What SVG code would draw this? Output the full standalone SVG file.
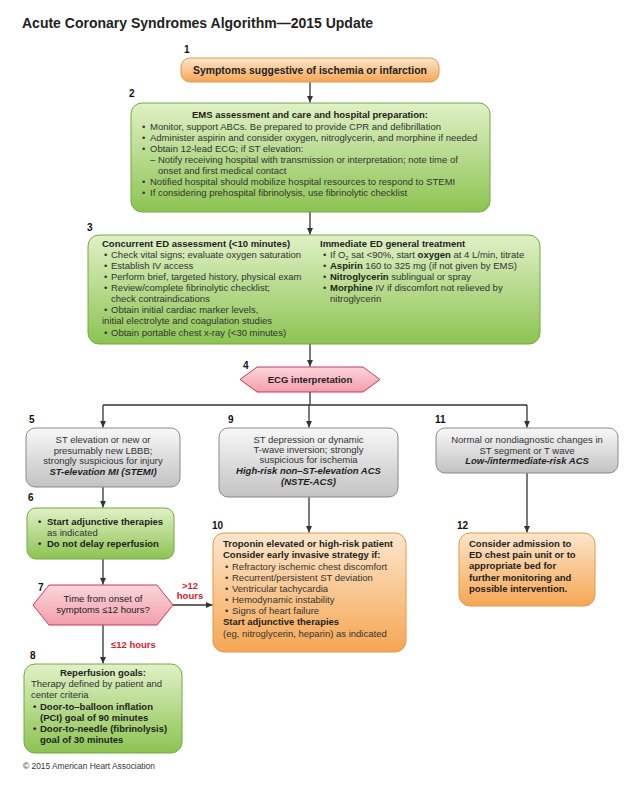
<svg xmlns="http://www.w3.org/2000/svg" width="638" height="798" viewBox="0 0 638 798">
<defs>
<linearGradient id="gOr" x1="0" y1="0" x2="0" y2="1"><stop offset="0" stop-color="#fde6cc"/><stop offset="1" stop-color="#f5a653"/></linearGradient>
<linearGradient id="gGr" x1="0" y1="0" x2="0" y2="1"><stop offset="0" stop-color="#e0f1c6"/><stop offset="1" stop-color="#8cc352"/></linearGradient>
<linearGradient id="gGy" x1="0" y1="0" x2="0" y2="1"><stop offset="0" stop-color="#f8f8f8"/><stop offset="1" stop-color="#c2c2c2"/></linearGradient>
<linearGradient id="gPk" x1="0" y1="0" x2="0" y2="1"><stop offset="0" stop-color="#fcd6db"/><stop offset="1" stop-color="#f29eaa"/></linearGradient>
<marker id="arr" markerUnits="userSpaceOnUse" markerWidth="8" markerHeight="8" refX="7" refY="4" orient="auto"><path d="M0,0.8 L7,4 L0,7.2 Z" fill="#333"/></marker>
</defs>
<style>
text{font-family:"Liberation Sans",Arial,Helvetica,sans-serif;font-size:9.5px;fill:#333}
.b{font-weight:bold;fill:#1e1e1e}
.bi{font-weight:bold;font-style:italic;fill:#1e1e1e}
.c{text-anchor:middle}
.num{font-weight:bold;font-size:10px;fill:#111}
.red{font-weight:bold;fill:#d2232a}
.or{fill:url(#gOr);stroke:#e0994c;stroke-width:1}
.gr{fill:url(#gGr);stroke:#74a843;stroke-width:1}
.gy{fill:url(#gGy);stroke:#8a8a8a;stroke-width:1}
.pk{fill:url(#gPk);stroke:#c8385a;stroke-width:1}
.ln{fill:none;stroke:#333;stroke-width:1.3}
</style>
<rect width="638" height="798" fill="#fff"/>
<text x="22" y="28" style="font-size:14px;font-weight:bold;fill:#222">Acute Coronary Syndromes Algorithm—2015 Update</text>

<g id="connectors">
<line class="ln" x1="310" y1="82" x2="310" y2="102.5" marker-end="url(#arr)"/>
<line class="ln" x1="310" y1="212" x2="310" y2="234.5" marker-end="url(#arr)"/>
<line class="ln" x1="310" y1="235" x2="310" y2="366.5" marker-end="url(#arr)"/>
<polyline class="ln" points="310,392 310,405"/>
<line class="ln" x1="103" y1="405" x2="527" y2="405"/>
<line class="ln" x1="103" y1="405" x2="103" y2="427.5" marker-end="url(#arr)"/>
<line class="ln" x1="309" y1="405" x2="309" y2="427.5" marker-end="url(#arr)"/>
<line class="ln" x1="527" y1="405" x2="527" y2="427.5" marker-end="url(#arr)"/>
<line class="ln" x1="103" y1="487" x2="103" y2="507.5" marker-end="url(#arr)"/>
<line class="ln" x1="103" y1="559" x2="103" y2="584.5" marker-end="url(#arr)"/>
<line class="ln" x1="173" y1="605" x2="212.5" y2="605" marker-end="url(#arr)"/>
<line class="ln" x1="103" y1="625" x2="103" y2="663.5" marker-end="url(#arr)"/>
<line class="ln" x1="309" y1="497" x2="309" y2="532.5" marker-end="url(#arr)"/>
<line class="ln" x1="527" y1="473" x2="527" y2="532.5" marker-end="url(#arr)"/>
<text class="red c" x="190" y="589">&gt;12</text>
<text class="red c" x="190" y="599">hours</text>
<text class="red" x="111" y="648">≤12 hours</text>
</g>

<g id="node1">
<text class="num" x="184" y="53">1</text>
<rect class="or" x="181" y="58" width="258" height="24" rx="9"/>
<text class="b c" x="310" y="74" style="font-size:10.4px">Symptoms suggestive of ischemia or infarction</text>
</g>

<g id="node2">
<text class="num" x="129" y="97">2</text>
<rect class="gr" x="131" y="103" width="359" height="109" rx="11"/>
<text class="b c" x="310" y="118">EMS assessment and care and hospital preparation:</text>
<text x="142" y="130">•</text><text x="150" y="130">Monitor, support ABCs. Be prepared to provide CPR and defibrillation</text>
<text x="142" y="141">•</text><text x="150" y="141">Administer aspirin and consider oxygen, nitroglycerin, and morphine if needed</text>
<text x="142" y="152">•</text><text x="150" y="152">Obtain 12-lead ECG; if ST elevation:</text>
<text x="150" y="163">– Notify receiving hospital with transmission or interpretation; note time of</text>
<text x="158" y="174">onset and first medical contact</text>
<text x="142" y="185">•</text><text x="150" y="185">Notified hospital should mobilize hospital resources to respond to STEMI</text>
<text x="142" y="196">•</text><text x="150" y="196">If considering prehospital fibrinolysis, use fibrinolytic checklist</text>
</g>

<g id="node3">
<text class="num" x="87" y="231">3</text>
<rect class="gr" x="88" y="235" width="452" height="109" rx="11"/>
<text class="b" x="102" y="247">Concurrent ED assessment (&lt;10 minutes)</text>
<text x="104" y="258">•</text><text x="111" y="258">Check vital signs; evaluate oxygen saturation</text>
<text x="104" y="269">•</text><text x="111" y="269">Establish IV access</text>
<text x="104" y="280">•</text><text x="111" y="280">Perform brief, targeted history, physical exam</text>
<text x="104" y="291">•</text><text x="111" y="291">Review/complete fibrinolytic checklist;</text>
<text x="111" y="302">check contraindications</text>
<text x="104" y="313">•</text><text x="111" y="313">Obtain initial cardiac marker levels,</text>
<text x="102" y="324">initial electrolyte and coagulation studies</text>
<text x="104" y="336">•</text><text x="111" y="336">Obtain portable chest x-ray (&lt;30 minutes)</text>
<text class="b" x="320" y="247">Immediate ED general treatment</text>
<text x="323" y="258">•</text><text x="330" y="258">If O<tspan style="font-size:6px" dy="2">2</tspan><tspan dy="-2"> sat &lt;90%, start </tspan><tspan class="b">oxygen</tspan> at 4 L/min, titrate</text>
<text x="323" y="269">•</text><text x="330" y="269"><tspan class="b">Aspirin</tspan> 160 to 325 mg (if not given by EMS)</text>
<text x="323" y="280">•</text><text x="330" y="280"><tspan class="b">Nitroglycerin</tspan> sublingual or spray</text>
<text x="323" y="291">•</text><text x="330" y="291"><tspan class="b">Morphine</tspan> IV if discomfort not relieved by</text>
<text x="330" y="302">nitroglycerin</text>
</g>

<g id="node4">
<text class="num" x="243" y="369">4</text>
<polygon class="pk" points="240,379.5 257,367 363,367 380,379.5 363,392 257,392"/>
<text class="b c" x="310" y="383">ECG interpretation</text>
</g>

<g id="node5">
<text class="num" x="29" y="423">5</text>
<rect class="gy" x="26" y="428" width="154" height="59" rx="9"/>
<text class="c" x="103" y="443">ST elevation or new or</text>
<text class="c" x="103" y="453.5">presumably new LBBB;</text>
<text class="c" x="103" y="464">strongly suspicious for injury</text>
<text class="bi c" x="103" y="475">ST-elevation MI (STEMI)</text>
</g>

<g id="node9">
<text class="num" x="228" y="423">9</text>
<rect class="gy" x="219" y="428" width="179" height="69" rx="9"/>
<text class="c" x="308.5" y="443">ST depression or dynamic</text>
<text class="c" x="308.5" y="453">T-wave inversion; strongly</text>
<text class="c" x="308.5" y="463">suspicious for ischemia</text>
<text class="bi c" x="308.5" y="474">High-risk non–ST-elevation ACS</text>
<text class="bi c" x="308.5" y="484.5">(NSTE-ACS)</text>
</g>

<g id="node11">
<text class="num" x="435" y="423">11</text>
<rect class="gy" x="436" y="428" width="182" height="45" rx="9"/>
<text class="c" x="527" y="443">Normal or nondiagnostic changes in</text>
<text class="c" x="527" y="453.5">ST segment or T wave</text>
<text class="bi c" x="527" y="464">Low-/intermediate-risk ACS</text>
</g>

<g id="node6">
<text class="num" x="28" y="501">6</text>
<rect class="gr" x="27" y="508" width="147" height="51" rx="9"/>
<text class="b" x="38" y="525">•</text><text class="b" x="47" y="525">Start adjunctive therapies</text>
<text x="47" y="535.5">as indicated</text>
<text class="b" x="38" y="547">•</text><text class="b" x="47" y="547">Do not delay reperfusion</text>
</g>

<g id="node7">
<text class="num" x="38" y="591">7</text>
<polygon class="pk" points="33,605 49,585 157,585 173,605 157,625 49,625"/>
<text class="c" x="103" y="602" style="fill:#222">Time from onset of</text>
<text class="c" x="103" y="613" style="fill:#222">symptoms ≤12 hours?</text>
</g>

<g id="node8">
<text class="num" x="30" y="659">8</text>
<rect class="gr" x="24" y="664" width="158" height="89" rx="11"/>
<text class="b c" x="103" y="676">Reperfusion goals:</text>
<text x="31" y="687">Therapy defined by patient and</text>
<text x="31" y="698">center criteria</text>
<text class="b" x="33" y="710">•</text><text class="b" x="40" y="710">Door-to–balloon inflation</text>
<text class="b" x="40" y="721">(PCI) goal of 90 minutes</text>
<text class="b" x="33" y="732">•</text><text class="b" x="40" y="732">Door-to-needle (fibrinolysis)</text>
<text class="b" x="40" y="743">goal of 30 minutes</text>
</g>

<g id="node10">
<text class="num" x="212" y="529">10</text>
<rect class="or" x="213" y="533" width="193" height="119" rx="11"/>
<text class="b" x="223" y="547">Troponin elevated or high-risk patient</text>
<text class="b" x="223" y="558">Consider early invasive strategy if:</text>
<text x="225" y="570">•</text><text x="232" y="570">Refractory ischemic chest discomfort</text>
<text x="225" y="581">•</text><text x="232" y="581">Recurrent/persistent ST deviation</text>
<text x="225" y="592">•</text><text x="232" y="592">Ventricular tachycardia</text>
<text x="225" y="603">•</text><text x="232" y="603">Hemodynamic instability</text>
<text x="225" y="614">•</text><text x="232" y="614">Signs of heart failure</text>
<text class="b" x="223" y="625">Start adjunctive therapies</text>
<text x="223" y="637">(eg, nitroglycerin, heparin) as indicated</text>
</g>

<g id="node12">
<text class="num" x="457" y="529">12</text>
<rect class="or" x="459" y="533" width="136" height="73" rx="11"/>
<text class="b" x="469" y="547">Consider admission to</text>
<text class="b" x="469" y="558">ED chest pain unit or to</text>
<text class="b" x="469" y="569">appropriate bed for</text>
<text class="b" x="469" y="581">further monitoring and</text>
<text class="b" x="469" y="592">possible intervention.</text>
</g>

<text x="23" y="769" style="font-size:8.4px;fill:#333">© 2015 American Heart Association</text>
</svg>
